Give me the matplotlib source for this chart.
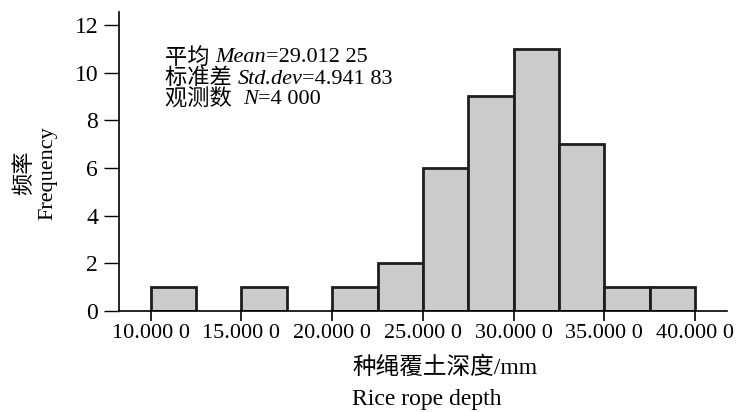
import matplotlib
matplotlib.use("Agg")
import matplotlib.pyplot as plt

# ── data ─────────────────────────────────────────────
bin_left = [10.0, 12.5, 15.0, 17.5, 20.0, 22.5, 25.0, 27.5, 30.0, 32.5, 35.0, 37.5]
counts = [1, 0, 1, 0, 1, 2, 6, 9, 11, 7, 1, 1]
bin_width = 2.5
xticks = [10, 15, 20, 25, 30, 35, 40]
xtick_labels = ["10.000 0", "15.000 0", "20.000 0", "25.000 0",
                "30.000 0", "35.000 0", "40.000 0"]
yticks = [0, 2, 4, 6, 8, 10, 12]
stats_lines = [
    ("平均 ", "Mean", "=29.012 25"),
    ("标准差 ", "Std.dev", "=4.941 83"),
    ("观测数  ", "N", "=4 000"),
]

FONT = ["Liberation Serif", "Noto Sans CJK SC"]
plt.rcParams["font.family"] = FONT

W, H = 744, 412
fig = plt.figure(figsize=(W / 100, H / 100), dpi=100)
ax = fig.add_axes([119 / W, 1 - 311 / H, (727 - 119) / W, (311 - 12) / H])

xs = [x for x, c in zip(bin_left, counts) if c > 0]
hs = [c for c in counts if c > 0]
ax.bar(xs, hs, width=bin_width, align="edge", color="#cbcbcb",
       edgecolor="#1e1e1e", linewidth=2.0, zorder=2)

ax.set_xlim(8.25, 41.76)
ax.set_ylim(0, 12.54)
ax.set_xticks(xticks)
ax.set_xticklabels(xtick_labels, fontsize=16)
ax.set_yticks(yticks)
ax.set_yticklabels([str(v) for v in yticks], fontsize=17)
ax.tick_params(axis="x", length=7, width=1.2, pad=2, direction="out")
ax.tick_params(axis="y", length=11, width=1.0, pad=4, direction="out")
for s in ("top", "right"):
    ax.spines[s].set_visible(False)
ax.spines["left"].set_linewidth(1.2)
ax.spines["bottom"].set_linewidth(1.2)

# axis titles
fig.text(25 / W, 1 - 173 / H, "频率", rotation=90, ha="center", va="center",
         fontsize=16)
fig.text(48 / W, 1 - 173 / H, "Frequency", rotation=90, ha="center", va="center",
         fontsize=16)
fig.text(352 / W, 1 - 368 / H, "种绳覆土深度/mm", ha="left", va="center", fontsize=17)
fig.text(352 / W, 1 - 400 / H, "Rice rope depth", ha="left", va="center", fontsize=17)

# statistics box, pieces placed one after another
renderer = fig.canvas.get_renderer()
line_y = [58, 79, 100]
for (cjk, ital, rest), yy in zip(stats_lines, line_y):
    x = 165
    for txt, style in ((cjk, "normal"), (ital, "italic"), (rest, "normal")):
        t = fig.text(x / W, 1 - yy / H, txt, ha="left", va="center",
                     fontsize=16, style=style)
        bb = t.get_window_extent(renderer)
        x += bb.width

fig.savefig("out.png", dpi=100)
